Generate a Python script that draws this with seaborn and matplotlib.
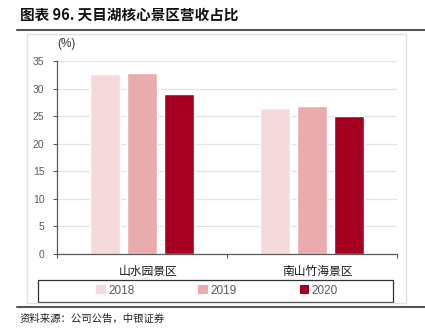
import numpy as np
import pandas as pd
import matplotlib
matplotlib.use("Agg")
import matplotlib.pyplot as plt
from matplotlib.lines import Line2D
from matplotlib.patches import Rectangle
import matplotlib.transforms as mtransforms
import seaborn as sns

categories = ["山水园景区", "南山竹海景区"]
years = ["2018", "2019", "2020"]
v2018 = [32.7, 26.4]
v2019 = [32.8, 26.9]
v2020 = [29.0, 25.1]
colors = ["#F6DADB", "#E9ABAB", "#A50021"]
yticks = [0, 5, 10, 15, 20, 25, 30, 35]

rows = []
for y, vals in zip(years, [v2018, v2019, v2020]):
    for c, v in zip(categories, vals):
        rows.append({"cat": c, "year": y, "val": v})
df = pd.DataFrame(rows)

sns.set_theme(style="white")
plt.rcParams['font.family'] = ['Noto Sans CJK SC', 'DejaVu Sans']
plt.rcParams['axes.unicode_minus'] = False

fig = plt.figure(figsize=(4.25, 3.34), dpi=100)
ax = fig.add_axes([0.134, 0.2395, 0.80, 0.578])

sns.barplot(data=df, x="cat", y="val", hue="year", order=categories,
            hue_order=years, palette=colors, width=0.66, gap=0.2,
            ax=ax, legend=False, saturation=1)

ax.set_xlim(-0.5, 1.5)
ax.set_ylim(0, 35)
ax.set_yticks(yticks)
ax.set_yticklabels([str(t) for t in yticks], fontsize=7.5, color="#595959",
                   family=['Liberation Sans', 'DejaVu Sans'])
ax.yaxis.grid(True, color="#E3E3E3", linewidth=0.9)
ax.set_axisbelow(True)
ax.set_xlabel("")
ax.set_ylabel("")
for s in ["top", "right"]:
    ax.spines[s].set_visible(False)
for s in ["left", "bottom"]:
    ax.spines[s].set_color("#595959")
    ax.spines[s].set_linewidth(0.9)
ax.tick_params(axis="y", which="both", left=True, length=3, width=0.8,
               color="#595959", pad=6)
ax.set_xticks([-0.5, 0.5, 1.5])
ax.set_xticklabels(["", "", ""])
ax.tick_params(axis="x", which="major", bottom=True, length=3, width=0.8,
               color="#595959")
ax.set_xticks([0, 1], minor=True)
ax.set_xticklabels(categories, minor=True, fontsize=8.5, color="#1a1a1a")
ax.tick_params(axis="x", which="minor", length=0, pad=8)
offset = mtransforms.ScaledTranslation(6 / 100, 0, fig.dpi_scale_trans)
for lbl in ax.get_xticklabels(minor=True):
    lbl.set_transform(lbl.get_transform() + offset)

fig.text(0.134, 0.858, "(%)", fontsize=8.5, color="#333333",
         family=['Liberation Sans', 'DejaVu Sans'])

# legend
handles = [Rectangle((0, 0), 1, 1, facecolor=c, edgecolor="none") for c in colors]
leg = fig.legend(handles, years, loc="center",
                 bbox_to_anchor=(0.511, 0.129),
                 ncol=3, frameon=False, handlelength=0.8,
                 handleheight=0.8, handletextpad=0.2, columnspacing=5.4,
                 prop={'family': ['Liberation Sans', 'DejaVu Sans'], 'size': 8.5})
for t in leg.get_texts():
    t.set_color("#595959")
fig.patches.append(Rectangle((0.089, 0.096), 0.836, 0.066, transform=fig.transFigure,
                             fill=False, edgecolor="#333333", linewidth=0.9))

# outer box
fig.patches.append(Rectangle((0.0635, 0.093), 0.8915, 0.805, transform=fig.transFigure,
                             fill=False, edgecolor="#E0E0E0", linewidth=1.0))
fig.lines.append(Line2D([0.04, 1.0], [0.91, 0.91], transform=fig.transFigure,
                        color="#555555", linewidth=1.5))
fig.lines.append(Line2D([0.04, 1.0], [0.081, 0.081], transform=fig.transFigure,
                        color="#555555", linewidth=1.5))

fig.text(0.047, 0.955, "图表 96. 天目湖核心景区营收占比", fontsize=10.5,
         fontweight="bold", va="center", color="#111111")
fig.text(0.045, 0.045, "资料来源：公司公告，中银证券", fontsize=7.5,
         style="italic", va="center", color="#222222")

fig.savefig("out.png", dpi=100)
